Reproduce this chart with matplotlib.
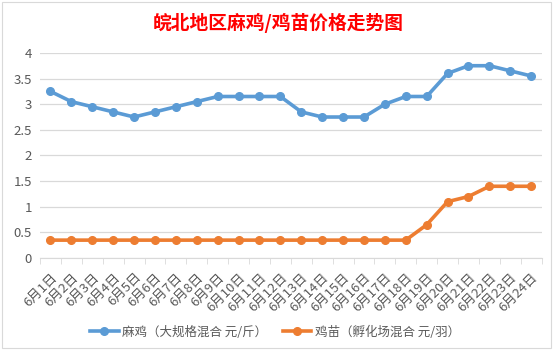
import matplotlib
matplotlib.use("Agg")
import matplotlib.pyplot as plt

plt.rcParams['font.family'] = ['Noto Sans CJK SC', 'DejaVu Sans']

dates = [f"6月{d}日" for d in range(1, 25)]
maji = [3.25, 3.05, 2.95, 2.85, 2.75, 2.85, 2.95, 3.05, 3.15, 3.15, 3.15, 3.15,
        2.85, 2.75, 2.75, 2.75, 3.0, 3.15, 3.15, 3.6, 3.75, 3.75, 3.65, 3.55]
jimiao = [0.35] * 18 + [0.65, 1.1, 1.2, 1.4, 1.4, 1.4]
series_names = ["麻鸡（大规格混合 元/斤）", "鸡苗（孵化场混合 元/羽）"]
title = "皖北地区麻鸡/鸡苗价格走势图"

fig = plt.figure(figsize=(5.58, 3.55), dpi=100)
ax = fig.add_axes([0.0717, 0.273, 0.899, 0.578])

x = list(range(len(dates)))
ax.plot(x, maji, color='#5B9BD5', lw=2.6, marker='o', ms=5.5, label=series_names[0], zorder=3)
ax.plot(x, jimiao, color='#ED7D31', lw=2.6, marker='o', ms=5.5, label=series_names[1], zorder=3)

ax.set_xlim(-0.5, len(dates) - 0.5)
ax.set_ylim(0, 4)
ax.set_yticks([0, 0.5, 1, 1.5, 2, 2.5, 3, 3.5, 4])
ax.set_yticklabels(['0', '0.5', '1', '1.5', '2', '2.5', '3', '3.5', '4'])
ax.yaxis.grid(True, color='#d9d9d9', lw=0.9)
ax.set_axisbelow(True)
for s in ['top', 'right', 'left']:
    ax.spines[s].set_visible(False)
ax.spines['bottom'].set_color('#d9d9d9')
ax.tick_params(axis='y', length=0, colors='#595959', labelsize=9.5, pad=6)

ax.set_xticks(x)
ax.set_xticklabels(dates, rotation=45, ha='right', rotation_mode='anchor',
                   fontsize=9.5, color='#595959')
ax.set_xticks([i - 0.5 for i in range(len(dates) + 1)], minor=True)
ax.tick_params(axis='x', which='major', length=0, pad=9)
ax.tick_params(axis='x', which='minor', length=4, color='#d9d9d9')

fig.text(0.498, 0.934, title, color='#FF0000', fontsize=13.5, fontweight='bold',
         ha='center', va='center')

fig.legend(loc='center', bbox_to_anchor=(0.493, 0.065), ncol=2, frameon=False,
           fontsize=9, handlelength=2.3, columnspacing=1.2, handletextpad=0.3,
           labelcolor='#595959')

fig.patches.append(plt.Rectangle((0.003, 0.02), 0.985, 0.975, transform=fig.transFigure,
                                 fill=False, edgecolor='#d9d9d9', lw=0.8))

fig.savefig("out.png", dpi=100, facecolor='white')
